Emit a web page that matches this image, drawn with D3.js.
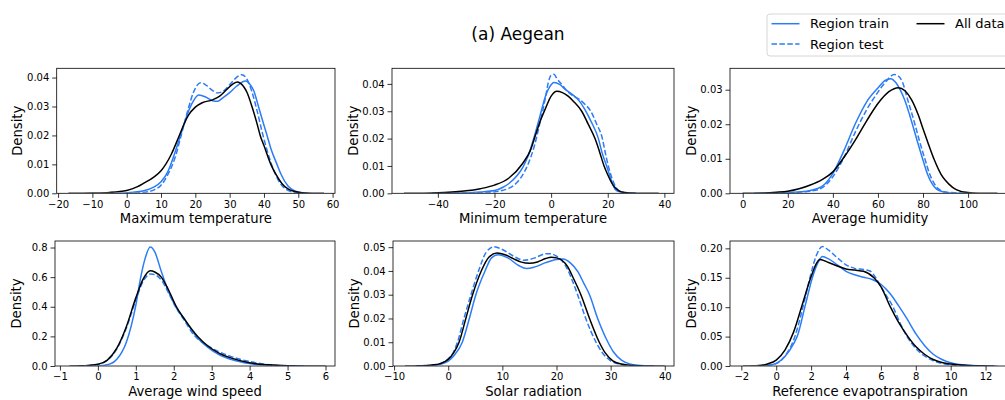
<!DOCTYPE html>
<html><head><meta charset="utf-8">
<script src="https://cdn.jsdelivr.net/npm/d3@7"></script>
<style>body{margin:0;background:#fff}svg{display:block}text{font-family:"DejaVu Sans",sans-serif;fill:#000}</style>
</head><body><svg id="c" width="1005" height="400"></svg>
<script>
// ---- data ----
const title = "(a) Aegean";
const seriesNames = ["Region train", "Region test", "All data"];
const xLabels = ["Maximum temperature", "Minimum temperature", "Average humidity",
                 "Average wind speed", "Solar radiation", "Reference evapotranspiration"];
const xDomains = [[-20.4, 60.7], [-56.2, 43.4], [-5.65, 118.6], [-1.13, 6.25], [-10.2, 41.7], [-2.65, 13.4]];
const yMaxes = [0.0432, 0.0457, 0.0362, 0.844, 0.0526, 0.2125];
const xTicks = [[-20, -10, 0, 10, 20, 30, 40, 50, 60], [-40, -20, 0, 20, 40], [0, 20, 40, 60, 80, 100],
                [-1, 0, 1, 2, 3, 4, 5, 6], [-10, 0, 10, 20, 30, 40], [-2, 0, 2, 4, 6, 8, 10, 12]];
const yTicks = [[0, 0.01, 0.02, 0.03, 0.04], [0, 0.01, 0.02, 0.03, 0.04], [0, 0.01, 0.02, 0.03],
                [0, 0.2, 0.4, 0.6, 0.8], [0, 0.01, 0.02, 0.03, 0.04, 0.05], [0, 0.05, 0.10, 0.15, 0.20]];
const yFormats = [".2f", ".2f", ".2f", ".1f", ".2f", ".2f"];

const maxTempTrain = [[-5,0],[0,0.0002],[3,0.0005],[5,0.0009],[8,0.0022],[10,0.004],[12,0.0075],[13,0.0105],[15,0.0175],[16.2,0.022],[17,0.025],[19,0.031],[21,0.034],[23,0.0333],[25,0.032],[26.5,0.0318],[28,0.033],[30,0.0348],[32,0.037],[34.6,0.0388],[36,0.0375],[37,0.0355],[38.4,0.030],[40,0.0235],[40.9,0.020],[42,0.0155],[43.8,0.010],[45,0.0065],[47,0.0025],[49,0.0008],[51,0.0002],[53,0]];
const maxTempTest = [[0,0],[3,0.0001],[5,0.0003],[8,0.0012],[10,0.0028],[12,0.0065],[14,0.012],[16.2,0.0215],[18,0.0295],[19.5,0.035],[21.5,0.0382],[23,0.0375],[24.5,0.036],[26.5,0.0347],[28,0.0352],[30,0.0375],[31.5,0.0395],[33.5,0.041],[35,0.0395],[36.5,0.035],[38,0.0285],[39.5,0.021],[41,0.0145],[43,0.0075],[45,0.003],[47,0.001],[49,0.0003],[51,0]];
const maxTempAll = [[-17,0],[-10,0.0001],[-5,0.0003],[-2,0.0006],[0,0.001],[3,0.0022],[5,0.0035],[8,0.0057],[10,0.0078],[13,0.0135],[15,0.019],[16.2,0.0225],[18,0.027],[20,0.0298],[22,0.0313],[25,0.0323],[27,0.0335],[29,0.0357],[31,0.0378],[32.2,0.0385],[34,0.037],[35,0.035],[36.5,0.030],[38,0.024],[38.9,0.020],[40,0.0165],[42,0.010],[43.5,0.0065],[45.2,0.0034],[47,0.0015],[49,0.0006],[52,0.0001],[57.5,0]];

const minTempTrain = [[-42,0],[-35,0.0001],[-30,0.0002],[-25,0.0005],[-20,0.001],[-17,0.0022],[-15,0.0035],[-12,0.0065],[-10,0.0095],[-8,0.014],[-5.6,0.022],[-4,0.028],[-2,0.0355],[0,0.0397],[1,0.0405],[3,0.0398],[5,0.038],[8,0.0357],[10,0.0337],[12,0.0305],[14,0.0265],[16.7,0.020],[18,0.0148],[19.6,0.010],[21,0.0055],[22.6,0.0015],[24,0.0006],[26,0.0002],[30,0]];
const minTempTest = [[-40,0],[-30,0.0001],[-25,0.0002],[-20,0.0005],[-17,0.0011],[-15,0.0018],[-12,0.004],[-10,0.0068],[-8,0.011],[-6,0.017],[-4,0.0255],[-2,0.035],[-1,0.0405],[0,0.0432],[1,0.0435],[2,0.042],[4,0.0395],[6,0.037],[8,0.0355],[10,0.0343],[12,0.0325],[14,0.030],[16,0.0255],[18.1,0.020],[19,0.0155],[20.2,0.010],[21.5,0.0055],[23,0.002],[25,0.0004],[27,0.0001],[30,0]];
const minTempAll = [[-52,0],[-45,0.00005],[-40,0.0002],[-35,0.0005],[-30,0.0009],[-25,0.0017],[-20,0.003],[-15,0.0055],[-10,0.011],[-7.4,0.0155],[-5.6,0.021],[-4,0.026],[-2,0.031],[0,0.0355],[2,0.0373],[4,0.0368],[6,0.0355],[8,0.0335],[10.8,0.030],[13,0.0255],[15.5,0.020],[17,0.0155],[18.7,0.010],[20,0.0068],[22,0.0028],[24,0.0009],[26,0.0003],[30,0.00003],[38,0]];

const humTrain = [[5,0],[15,0.0001],[20,0.0002],[25,0.0004],[30,0.0008],[35,0.0019],[40,0.0058],[45,0.0125],[50,0.0202],[55,0.0265],[60,0.0305],[63,0.0326],[65.7,0.0332],[68,0.032],[70,0.0298],[72,0.0268],[74,0.0228],[75.3,0.020],[77.5,0.015],[79.8,0.010],[82,0.0055],[84,0.0028],[86,0.0012],[89,0.0004],[93,0.0001],[100,0]];
const humTest = [[10,0],[20,0.0001],[25,0.0003],[30,0.0006],[35,0.0015],[40,0.0048],[45,0.0105],[50,0.0178],[55,0.0242],[60,0.0293],[64,0.0327],[67.2,0.0344],[69,0.034],[71,0.032],[73,0.0275],[75,0.0232],[76.4,0.020],[78.5,0.015],[80.8,0.010],[83,0.0055],[85,0.0028],[87,0.0012],[90,0.0004],[95,0.0001],[100,0]];
const humAll = [[0,0],[10,0.0001],[15,0.0003],[20,0.0006],[25,0.0013],[30,0.0024],[35,0.0039],[40,0.0062],[45,0.0105],[50,0.0155],[55,0.021],[60,0.026],[65,0.0295],[69,0.0306],[72,0.0297],[75,0.027],[78,0.0225],[80,0.0187],[82,0.015],[85,0.0097],[88,0.0055],[90,0.0037],[93,0.0018],[95,0.001],[100,0.0002],[105,0.00003],[113,0]];

const windTrain = [[-0.2,0],[0,0.001],[0.25,0.008],[0.5,0.045],[0.75,0.16],[1.0,0.41],[1.13,0.6],[1.25,0.73],[1.38,0.803],[1.5,0.77],[1.67,0.64],[1.85,0.51],[2.05,0.4],[2.3,0.31],[2.59,0.2],[2.9,0.125],[3.2,0.075],[3.5,0.045],[4.0,0.016],[4.5,0.005],[5.0,0.001],[5.3,0]];
const windTest = [[-0.5,0],[-0.25,0.003],[0,0.011],[0.25,0.038],[0.5,0.115],[0.75,0.255],[1.0,0.445],[1.2,0.575],[1.4,0.622],[1.55,0.61],[1.7,0.57],[1.85,0.5],[2.07,0.39],[2.3,0.3],[2.5,0.22],[2.65,0.18],[2.9,0.135],[3.2,0.095],[3.5,0.065],[3.8,0.042],[4.1,0.025],[4.4,0.011],[4.7,0.003],[5.0,0.0005],[5.5,0]];
const windAll = [[-0.75,0],[-0.5,0.001],[-0.25,0.004],[0,0.012],[0.25,0.04],[0.5,0.12],[0.75,0.265],[1.0,0.46],[1.2,0.59],[1.38,0.643],[1.5,0.635],[1.67,0.6],[1.85,0.52],[2.07,0.4],[2.3,0.31],[2.63,0.2],[2.9,0.135],[3.2,0.085],[3.5,0.055],[4.0,0.022],[4.5,0.008],[5,0.002],[5.5,0.0005],[6.0,0]];

const solarTrain = [[-6,0],[-3,0.0002],[-1.5,0.0007],[0,0.002],[1,0.0042],[2.6,0.010],[3.9,0.020],[5.1,0.030],[6.8,0.040],[8,0.0455],[9.2,0.0468],[11,0.0455],[13,0.0423],[14.5,0.041],[16,0.0417],[18,0.0435],[20,0.0448],[21.2,0.045],[22.5,0.0435],[24,0.0395],[25,0.035],[26.1,0.030],[27.6,0.020],[29.5,0.010],[30.5,0.006],[32,0.0025],[33.5,0.0009],[35,0.0003],[38,0]];
const solarTest = [[-6,0],[-3,0.0003],[-1.5,0.001],[0,0.003],[1,0.006],[1.7,0.010],[2.9,0.020],[4.2,0.030],[5.6,0.040],[7,0.0478],[8.5,0.0502],[10,0.049],[12,0.0463],[14,0.0445],[16,0.0455],[18,0.0472],[19,0.0472],[20,0.0462],[21,0.0443],[22,0.0408],[23,0.0355],[23.9,0.030],[25.4,0.020],[27.3,0.010],[28.5,0.0055],[30,0.0022],[31.5,0.0008],[33,0.0002],[36,0]];
const solarAll = [[-8,0],[-5,0.0001],[-3,0.0004],[-1.5,0.001],[0,0.0028],[1,0.0055],[2,0.010],[3.25,0.020],[4.5,0.030],[6.1,0.040],[7.5,0.0458],[9,0.0475],[10.5,0.0468],[12,0.0452],[13.5,0.0437],[15,0.0432],[16.5,0.0438],[18,0.0452],[19,0.0458],[20,0.0455],[21,0.0445],[22,0.042],[23,0.0375],[24.5,0.030],[26.1,0.020],[27.9,0.010],[29,0.0055],[30.4,0.0022],[32,0.0008],[34,0.0002],[36,0.00003],[40,0]];

const et0Train = [[-1,0],[-0.5,0.001],[0,0.0045],[0.5,0.016],[1,0.038],[1.2,0.05],[1.64,0.10],[2.07,0.15],[2.4,0.176],[2.65,0.186],[3,0.182],[3.5,0.172],[4,0.161],[4.5,0.155],[5,0.151],[5.5,0.147],[6,0.139],[6.5,0.124],[7,0.103],[7.5,0.08],[8,0.055],[8.5,0.035],[9,0.02],[9.5,0.011],[10,0.0055],[10.5,0.0025],[11,0.0012],[12,0.0002],[12.7,0]];
const et0Test = [[-1,0],[-0.5,0.001],[0,0.004],[0.5,0.017],[1.07,0.05],[1.53,0.10],[1.93,0.15],[2.3,0.188],[2.65,0.203],[3,0.197],[3.5,0.184],[4,0.172],[4.5,0.166],[5,0.164],[5.4,0.161],[5.7,0.15],[6.2,0.125],[6.7,0.10],[7.1,0.073],[7.5,0.05],[8,0.03],[8.5,0.017],[9,0.009],[9.5,0.0045],[10,0.002],[11,0.0003],[12,0]];
const et0All = [[-1.9,0],[-1.5,0.0002],[-1,0.0008],[-0.5,0.0035],[0,0.01],[0.5,0.027],[1.0,0.058],[1.5,0.105],[2.0,0.152],[2.3,0.174],[2.5,0.181],[3,0.176],[3.5,0.17],[4,0.165],[4.5,0.163],[5,0.161],[5.6,0.15],[6,0.135],[6.55,0.10],[7,0.075],[7.55,0.05],[8,0.033],[8.5,0.02],[9,0.011],[9.5,0.006],[10,0.0033],[11,0.001],[12,0.0002],[12.5,0]];

const trainSeries = [maxTempTrain, minTempTrain, humTrain, windTrain, solarTrain, et0Train];
const testSeries  = [maxTempTest, minTempTest, humTest, windTest, solarTest, et0Test];
const allSeries   = [maxTempAll, minTempAll, humAll, windAll, solarAll, et0All];

// ---- layout / style ----
const BLUE = "#2b7cf6", BLACK = "#000";
const boxes = [
  {l: 56.7, r: 335, t: 68.3, b: 193.3}, {l: 392, r: 674, t: 68.3, b: 193.3}, {l: 730, r: 1010, t: 68.3, b: 193.3},
  {l: 55, r: 335, t: 241, b: 366}, {l: 393, r: 674, t: 241, b: 366}, {l: 730, r: 1010, t: 241, b: 366}
];
const svg = d3.select("#c");
const fmtX = d3.format("d");

boxes.forEach((bx, i) => {
  const x = d3.scaleLinear().domain(xDomains[i]).range([bx.l, bx.r]);
  const y = d3.scaleLinear().domain([0, yMaxes[i]]).range([bx.b, bx.t]);
  const g = svg.append("g");
  const clipId = "clip" + i;
  svg.append("clipPath").attr("id", clipId).append("rect")
    .attr("x", bx.l).attr("y", bx.t - 2).attr("width", bx.r - bx.l).attr("height", bx.b - bx.t + 1.5);
  const line = d3.line().x(d => x(d[0])).y(d => y(d[1])).curve(d3.curveMonotoneX);
  const lg = g.append("g").attr("clip-path", `url(#${clipId})`);
  lg.append("path").datum(trainSeries[i]).attr("d", line).attr("fill", "none")
    .attr("stroke", BLUE).attr("stroke-width", 1.5);
  lg.append("path").datum(testSeries[i]).attr("d", line).attr("fill", "none")
    .attr("stroke", BLUE).attr("stroke-width", 1.5).attr("stroke-dasharray", "5.5,2.4");
  lg.append("path").datum(allSeries[i]).attr("d", line).attr("fill", "none")
    .attr("stroke", BLACK).attr("stroke-width", 1.5);

  const xa = g.append("g").attr("transform", `translate(0,${bx.b})`)
    .call(d3.axisBottom(x).tickValues(xTicks[i]).tickFormat(fmtX).tickSize(4.5).tickPadding(2.8));
  const ya = g.append("g").attr("transform", `translate(${bx.l},0)`)
    .call(d3.axisLeft(y).tickValues(yTicks[i]).tickFormat(d3.format(yFormats[i])).tickSize(4.5).tickPadding(2.9));
  [xa, ya].forEach(a => {
    a.select(".domain").remove();
    a.selectAll("line").attr("stroke", "#000").attr("stroke-width", 0.8);
    a.selectAll("text").attr("font-size", "10px").attr("font-family", "DejaVu Sans").attr("fill", "#000");
  });
  g.append("rect").attr("x", bx.l).attr("y", bx.t).attr("width", bx.r - bx.l).attr("height", bx.b - bx.t)
    .attr("fill", "none").attr("stroke", "#000").attr("stroke-width", 0.8);

  g.append("text").attr("x", (bx.l + bx.r) / 2).attr("y", bx.b + 29.5)
    .attr("text-anchor", "middle").attr("font-size", "13.2px").text(xLabels[i]);
  g.append("text").attr("transform", `translate(${bx.l - 34.5},${(bx.t + bx.b) / 2}) rotate(-90)`)
    .attr("text-anchor", "middle").attr("font-size", "13.2px").text("Density");
});

// title
svg.append("text").attr("x", 518).attr("y", 40).attr("text-anchor", "middle")
  .attr("font-size", "17px").text(title);

// legend
const leg = svg.append("g");
leg.append("rect").attr("x", 767).attr("y", 14).attr("width", 260).attr("height", 42).attr("rx", 3)
  .attr("fill", "#fff").attr("fill-opacity", 0.8).attr("stroke", "#cccccc").attr("stroke-width", 0.8);
const legPos = [{x: 771.5, y: 23.7}, {x: 771.5, y: 44}, {x: 916.5, y: 23.7}];
const legStyles = [{c: BLUE, d: null}, {c: BLUE, d: "5.5,2.4"}, {c: BLACK, d: null}];
seriesNames.forEach((name, k) => {
  const p = legPos[k];
  leg.append("line").attr("x1", p.x).attr("x2", p.x + 28).attr("y1", p.y).attr("y2", p.y)
    .attr("stroke", legStyles[k].c).attr("stroke-width", 1.5).attr("stroke-dasharray", legStyles[k].d);
  leg.append("text").attr("x", p.x + 38.5).attr("y", p.y + 4.6).attr("font-size", "13px").text(name);
});
</script>
</body></html>
